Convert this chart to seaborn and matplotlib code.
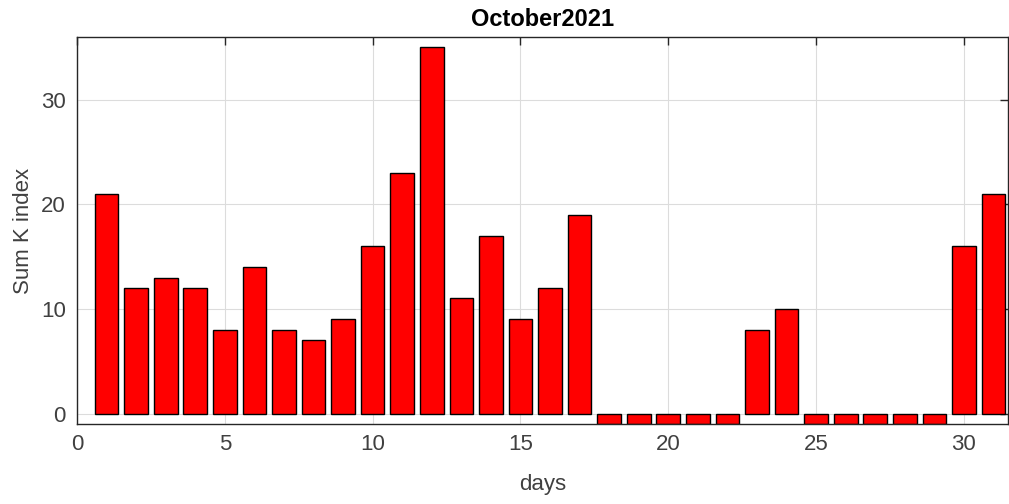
import matplotlib
matplotlib.use("Agg")
import matplotlib.pyplot as plt
import seaborn as sns
import pandas as pd

days = list(range(1, 32))
sum_k = [21, 12, 13, 12, 8, 14, 8, 7, 9, 16, 23, 35, 11, 17, 9, 12, 19,
         -1, -1, -1, -1, -1, 8, 10, -1, -1, -1, -1, -1, 16, 21]
x_ticks = [0, 5, 10, 15, 20, 25, 30]
y_ticks = [0, 10, 20, 30]

sns.set_theme(style="white")
plt.rcParams['font.family'] = ['Liberation Sans', 'DejaVu Sans']

df = pd.DataFrame({"days": days, "sumk": sum_k})

fig = plt.figure(figsize=(10.09, 5.04), dpi=100)
ax = fig.add_axes([0.0763, 0.1587, 0.923, 0.768])
sns.barplot(data=df, x="days", y="sumk", native_scale=True, width=0.8,
            color="#ff0000", saturation=1, edgecolor="black", linewidth=1.0, ax=ax)

ax.set_xlim(0, 31.5)
ax.set_ylim(-1, 36)
ax.set_xticks(x_ticks)
ax.set_yticks(y_ticks)
ax.grid(True, color="#dcdcdc", linewidth=0.8)
ax.set_axisbelow(True)
ax.tick_params(direction="in", top=True, right=True, length=6, width=1,
               labelsize=16, colors="#262626", labelcolor="#404040")
ax.tick_params(axis="x", pad=7)
ax.tick_params(axis="y", pad=8)
for s in ax.spines.values():
    s.set_visible(True)
    s.set_color("#262626")
    s.set_linewidth(1.0)
ax.set_xlabel("days", fontsize=16, color="#404040", labelpad=14)
ax.set_ylabel("Sum K index", fontsize=16, color="#404040", labelpad=5)
ax.set_title("October2021", fontsize=17, fontweight="bold", color="black", pad=8)

fig.savefig("out.png", dpi=100)
